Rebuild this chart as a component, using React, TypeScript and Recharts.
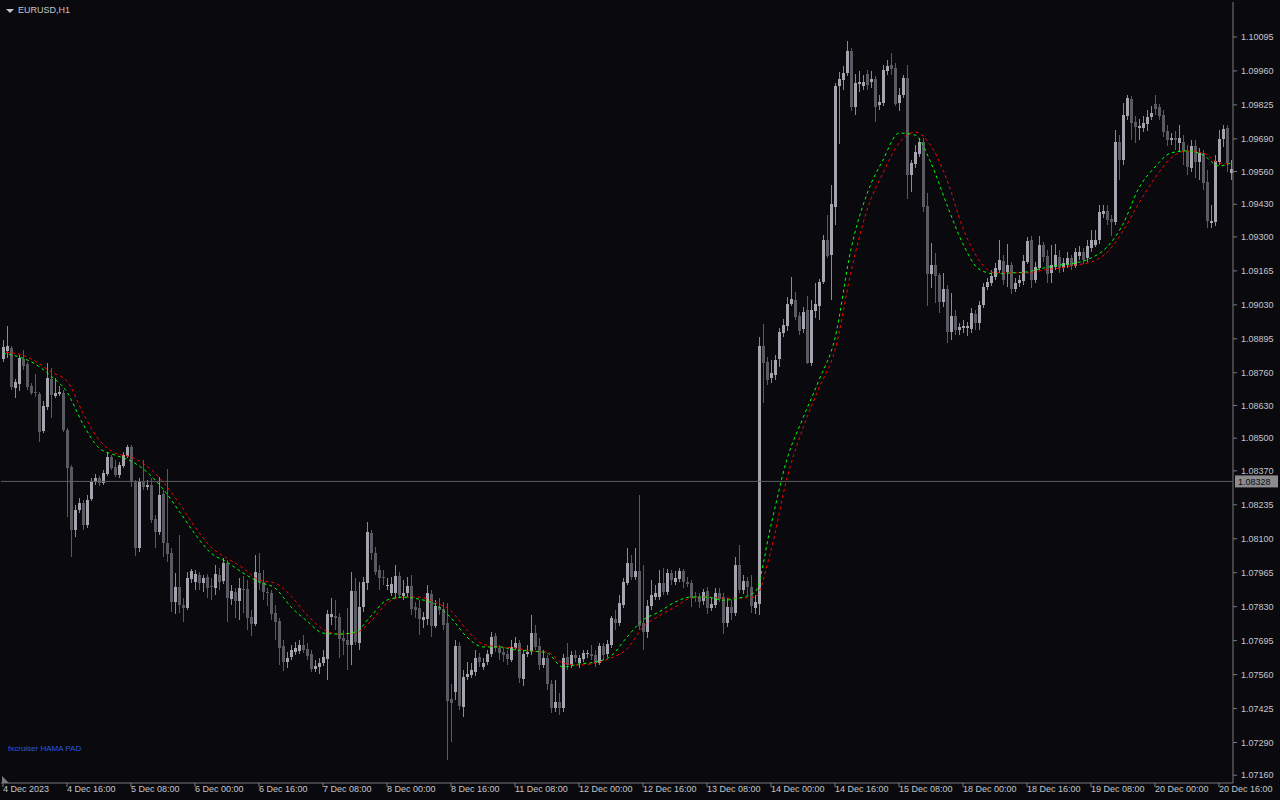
import { ComposedChart, Bar, Line, XAxis, YAxis, ReferenceLine } from "recharts";

// EURUSD H1 candles, one array per trading day: [open, high, low, close] in 1e-5 units
const dec04 = [
  [108815, 108890, 108803, 108862], [108846, 108946, 108819, 108866], [108858, 108866, 108691, 108703], [108699, 108735, 108660, 108723],
  [108715, 108831, 108687, 108819], [108815, 108850, 108771, 108787], [108795, 108803, 108691, 108703], [108707, 108719, 108671, 108679],
  [108683, 108755, 108664, 108679], [108675, 108683, 108485, 108524], [108528, 108648, 108520, 108628], [108624, 108799, 108612, 108739],
  [108735, 108779, 108580, 108671], [108668, 108739, 108660, 108679], [108675, 108707, 108668, 108683], [108679, 108691, 108524, 108532],
  [108532, 108540, 108186, 108381], [108385, 108393, 108027, 108135], [108135, 108234, 108107, 108214], [108214, 108262, 108202, 108242],
  [108242, 108254, 108135, 108155], [108155, 108274, 108143, 108254], [108258, 108341, 108250, 108326], [108326, 108357, 108314, 108341],
];
const dec05 = [
  [108341, 108349, 108310, 108322], [108322, 108373, 108314, 108361], [108357, 108445, 108349, 108425], [108425, 108433, 108373, 108381],
  [108385, 108413, 108345, 108353], [108353, 108405, 108341, 108393], [108389, 108445, 108381, 108433], [108429, 108473, 108421, 108465],
  [108465, 108473, 108306, 108326], [108326, 108334, 108031, 108063], [108063, 108341, 108047, 108326], [108326, 108413, 108294, 108306],
  [108306, 108334, 108294, 108314], [108314, 108341, 108163, 108174], [108178, 108194, 108063, 108127], [108127, 108345, 108115, 108274],
  [108278, 108294, 108027, 108083], [108083, 108377, 108007, 108039], [108043, 108063, 107809, 107848], [107848, 107964, 107801, 107908],
  [107908, 108115, 107805, 107837], [107837, 107864, 107769, 107825], [107825, 107968, 107817, 107944], [107940, 107980, 107924, 107972],
];
const dec06 = [
  [107928, 107976, 107896, 107960], [107956, 107968, 107896, 107924], [107924, 107956, 107888, 107944], [107948, 107960, 107864, 107904],
  [107912, 107944, 107856, 107908], [107904, 107996, 107876, 107960], [107956, 107984, 107896, 107928], [107932, 108023, 107920, 108004],
  [108004, 108016, 107769, 107864], [107860, 107916, 107837, 107892], [107888, 107904, 107785, 107852], [107852, 107944, 107777, 107904],
  [107900, 107952, 107805, 107896], [107900, 107936, 107737, 107785], [107789, 107817, 107713, 107761], [107761, 108035, 107753, 107968],
  [107964, 108043, 107896, 107928], [107928, 107976, 107856, 107888], [107888, 107904, 107833, 107884], [107884, 107896, 107777, 107801],
  [107805, 107837, 107697, 107769], [107773, 107785, 107598, 107666], [107674, 107697, 107574, 107610], [107610, 107650, 107586, 107626],
];
const dec07 = [
  [107630, 107677, 107618, 107658], [107650, 107689, 107638, 107666], [107654, 107697, 107642, 107677], [107677, 107717, 107646, 107658],
  [107662, 107685, 107618, 107634], [107642, 107658, 107570, 107582], [107582, 107618, 107570, 107594], [107590, 107626, 107562, 107606],
  [107606, 107658, 107594, 107630], [107622, 107817, 107538, 107801], [107789, 107864, 107757, 107801], [107793, 107856, 107737, 107785],
  [107789, 107805, 107626, 107701], [107705, 107737, 107638, 107693], [107697, 107825, 107578, 107677], [107677, 107968, 107598, 107892],
  [107892, 107944, 107677, 107689], [107685, 107928, 107658, 107829], [107829, 107948, 107809, 107928], [107924, 108167, 107896, 108127],
  [108123, 108135, 108016, 108043], [108043, 108067, 107956, 107968], [107976, 107996, 107896, 107944], [107948, 107976, 107916, 107944],
];
const dec08 = [
  [107912, 107944, 107896, 107916], [107884, 107948, 107872, 107920], [107884, 107996, 107864, 107952], [107952, 107968, 107864, 107876],
  [107872, 107936, 107856, 107884], [107884, 107948, 107868, 107912], [107912, 107956, 107797, 107821], [107829, 107848, 107785, 107817],
  [107825, 107856, 107717, 107781], [107777, 107809, 107745, 107789], [107781, 107916, 107757, 107884], [107880, 107896, 107709, 107753],
  [107753, 107856, 107745, 107833], [107829, 107864, 107797, 107817], [107821, 107848, 107737, 107757], [107765, 107844, 107220, 107455],
  [107463, 107522, 107292, 107447], [107491, 107697, 107459, 107674], [107674, 107689, 107419, 107435], [107431, 107578, 107391, 107550],
  [107550, 107610, 107538, 107562], [107558, 107606, 107546, 107578], [107570, 107658, 107554, 107626], [107630, 107646, 107590, 107610],
];
const dec11 = [
  [107590, 107626, 107578, 107606], [107610, 107658, 107598, 107642], [107642, 107729, 107630, 107709], [107713, 107725, 107650, 107666],
  [107666, 107677, 107618, 107646], [107650, 107666, 107610, 107638], [107642, 107658, 107598, 107622], [107618, 107697, 107610, 107670],
  [107666, 107709, 107658, 107685], [107685, 107697, 107526, 107546], [107542, 107658, 107514, 107642], [107642, 107677, 107630, 107650],
  [107654, 107797, 107638, 107725], [107725, 107757, 107658, 107670], [107674, 107705, 107578, 107598], [107598, 107658, 107586, 107626],
  [107626, 107638, 107499, 107522], [107522, 107538, 107407, 107427], [107427, 107538, 107411, 107451], [107451, 107487, 107399, 107427],
  [107427, 107642, 107411, 107626], [107630, 107685, 107578, 107598], [107598, 107654, 107586, 107638], [107638, 107658, 107610, 107626],
];
const dec12 = [
  [107606, 107638, 107586, 107626], [107622, 107658, 107610, 107646], [107642, 107658, 107626, 107646], [107642, 107677, 107618, 107634],
  [107638, 107658, 107590, 107606], [107606, 107685, 107598, 107674], [107674, 107685, 107618, 107638], [107642, 107697, 107630, 107681],
  [107677, 107793, 107666, 107785], [107781, 107817, 107737, 107765], [107765, 107876, 107753, 107844], [107837, 107944, 107825, 107928],
  [107924, 108063, 107916, 108004], [108004, 108035, 107936, 107948], [107948, 108063, 107936, 107972], [107972, 108274, 107737, 107753],
  [107765, 107996, 107658, 107729], [107729, 107856, 107705, 107833], [107833, 107936, 107817, 107876], [107868, 107916, 107856, 107884],
  [107868, 107976, 107856, 107924], [107924, 107984, 107876, 107888], [107888, 107980, 107876, 107964], [107964, 107976, 107916, 107936],
];
const dec13 = [
  [107928, 107972, 107916, 107944], [107940, 107984, 107928, 107972], [107972, 107980, 107904, 107928], [107928, 107948, 107908, 107920],
  [107924, 107936, 107829, 107864], [107872, 107888, 107848, 107868], [107864, 107884, 107825, 107848], [107852, 107900, 107837, 107888],
  [107892, 107908, 107801, 107825], [107825, 107864, 107813, 107840], [107837, 107904, 107825, 107884], [107884, 107904, 107848, 107860],
  [107868, 107884, 107721, 107765], [107765, 107864, 107749, 107829], [107829, 107856, 107777, 107805], [107805, 108027, 107793, 107996],
  [107996, 108075, 107884, 107896], [107896, 107956, 107880, 107932], [107932, 107948, 107876, 107908], [107908, 107956, 107805, 107833],
  [107825, 107876, 107801, 107848], [107840, 108902, 107797, 108866], [108866, 108954, 108640, 108799], [108803, 108823, 108711, 108731],
];
const dec14 = [
  [108739, 108811, 108719, 108759], [108751, 108831, 108731, 108811], [108815, 108938, 108783, 108922], [108918, 108974, 108902, 108950],
  [108946, 109061, 108926, 109033], [109033, 109141, 109025, 109053], [109049, 109081, 108970, 108982], [108986, 109001, 108910, 108926],
  [108934, 109021, 108918, 109001], [109009, 109065, 108795, 108799], [108799, 109049, 108787, 109009], [109005, 109117, 108978, 109033],
  [109025, 109133, 108970, 109121], [109121, 109308, 109113, 109288], [109288, 109387, 109216, 109224], [109228, 109506, 109049, 109431],
  [109419, 109912, 109347, 109900], [109900, 109956, 109669, 109928], [109924, 109980, 109884, 109952], [109952, 110079, 109940, 110039],
  [110039, 110051, 109801, 109817], [109817, 109948, 109785, 109912], [109908, 109960, 109876, 109916], [109900, 109944, 109884, 109916],
];
const dec15 = [
  [109948, 109964, 109884, 109904], [109916, 109960, 109892, 109928], [109928, 109940, 109757, 109817], [109825, 109864, 109805, 109836],
  [109832, 109984, 109821, 109964], [109960, 110003, 109944, 109980], [109984, 110031, 109944, 109968], [109972, 109992, 109821, 109828],
  [109832, 109892, 109801, 109864], [109864, 109944, 109852, 109932], [109932, 109984, 109451, 109546], [109546, 109606, 109479, 109594],
  [109590, 109665, 109574, 109638], [109630, 109693, 109618, 109677], [109677, 109693, 109399, 109419], [109423, 109475, 109025, 109153],
  [109153, 109276, 109097, 109188], [109188, 109236, 109037, 109145], [109149, 109157, 108998, 109041], [109041, 109157, 109021, 109093],
  [109093, 109109, 108878, 108922], [108922, 109077, 108890, 108986], [108986, 109009, 108910, 108930], [108930, 108958, 108910, 108942],
];
const dec18 = [
  [108938, 108970, 108918, 108946], [108938, 108962, 108906, 108946], [108934, 109017, 108918, 108998], [108994, 109009, 108930, 108958],
  [108958, 109045, 108930, 109029], [109029, 109117, 109017, 109101], [109101, 109137, 109089, 109121], [109117, 109168, 109105, 109145],
  [109141, 109196, 109129, 109176], [109168, 109288, 109157, 109208], [109204, 109228, 109109, 109129], [109161, 109272, 109101, 109188],
  [109188, 109200, 109073, 109093], [109093, 109137, 109081, 109117], [109117, 109149, 109101, 109129], [109125, 109228, 109109, 109204],
  [109200, 109300, 109192, 109284], [109288, 109304, 109097, 109129], [109129, 109200, 109117, 109180], [109176, 109304, 109168, 109268],
  [109268, 109280, 109200, 109220], [109224, 109248, 109117, 109153], [109157, 109268, 109117, 109188], [109180, 109272, 109168, 109228],
];
const dec19 = [
  [109220, 109248, 109157, 109176], [109176, 109216, 109161, 109196], [109188, 109240, 109176, 109216], [109216, 109228, 109168, 109184],
  [109184, 109256, 109176, 109240], [109224, 109264, 109208, 109240], [109240, 109256, 109192, 109208], [109216, 109288, 109200, 109264],
  [109256, 109328, 109240, 109288], [109268, 109328, 109260, 109288], [109288, 109427, 109272, 109399], [109391, 109427, 109375, 109403],
  [109403, 109427, 109347, 109367], [109371, 109387, 109304, 109359], [109359, 109725, 109347, 109677], [109677, 109705, 109526, 109606],
  [109606, 109832, 109586, 109785], [109781, 109864, 109765, 109852], [109848, 109860, 109685, 109753], [109757, 109781, 109673, 109737],
  [109733, 109769, 109685, 109741], [109733, 109781, 109717, 109753], [109749, 109805, 109721, 109777], [109777, 109821, 109765, 109793],
];
const dec20 = [
  [109828, 109864, 109785, 109809], [109817, 109828, 109765, 109781], [109785, 109805, 109697, 109717], [109721, 109745, 109662, 109685],
  [109685, 109713, 109665, 109693], [109693, 109721, 109646, 109685], [109673, 109745, 109638, 109693], [109677, 109705, 109586, 109642],
  [109642, 109665, 109546, 109578], [109574, 109685, 109558, 109662], [109662, 109685, 109534, 109598], [109598, 109654, 109526, 109634],
  [109634, 109646, 109487, 109514], [109518, 109566, 109335, 109363], [109355, 109427, 109335, 109363], [109359, 109626, 109343, 109602],
  [109598, 109725, 109586, 109689], [109689, 109745, 109658, 109729], [109733, 109745, 109558, 109594], [109554, 109606, 109526, 109570],
];

// HAMA lines, read every 4th bar (plus the last bar)
const hamaFast = [
  108838, 108823, 108795, 108747, 108683, 108556, 108461, 108433, 108409, 108365,
  108298, 108210, 108119, 108043, 108007, 107964, 107928, 107904, 107829, 107773,
  107725, 107721, 107729, 107793, 107856, 107868, 107860, 107840, 107785, 107709,
  107670, 107670, 107658, 107654, 107646, 107590, 107602, 107610, 107634, 107709,
  107777, 107809, 107848, 107868, 107868, 107856, 107864, 107888, 108155, 108417,
  108580, 108731, 108898, 109252, 109471, 109606, 109713, 109705, 109594, 109427,
  109272, 109172, 109153, 109157, 109161, 109176, 109188, 109196, 109216, 109260,
  109351, 109495, 109578, 109634, 109642, 109626, 109582,
];
const hamaSlow = [
  108842, 108834, 108807, 108763, 108727, 108600, 108493, 108441, 108425, 108389,
  108326, 108242, 108147, 108067, 108023, 107984, 107936, 107924, 107872, 107797,
  107741, 107721, 107725, 107773, 107844, 107868, 107868, 107848, 107813, 107737,
  107681, 107670, 107666, 107654, 107650, 107606, 107598, 107606, 107626, 107662,
  107749, 107793, 107829, 107864, 107868, 107864, 107864, 107868, 108055, 108341,
  108540, 108699, 108850, 109161, 109407, 109554, 109673, 109717, 109662, 109526,
  109335, 109208, 109157, 109157, 109157, 109168, 109176, 109188, 109200, 109238,
  109324, 109435, 109534, 109614, 109642, 109634, 109594,
];
const hamaFastLast = 109594;
const hamaSlowLast = 109590;

const timeLabels = [
  "4 Dec 2023", "4 Dec 16:00", "5 Dec 08:00", "6 Dec 00:00", "6 Dec 16:00", "7 Dec 08:00", "8 Dec 00:00",
  "8 Dec 16:00", "11 Dec 08:00", "12 Dec 00:00", "12 Dec 16:00", "13 Dec 08:00", "14 Dec 00:00", "14 Dec 16:00",
  "15 Dec 08:00", "18 Dec 00:00", "18 Dec 16:00", "19 Dec 08:00", "20 Dec 00:00", "20 Dec 16:00",
];
const priceTicks = [
  1.10095, 1.0996, 1.09825, 1.0969, 1.0956, 1.0943, 1.093, 1.09165, 1.0903, 1.08895, 1.0876, 1.0863,
  1.085, 1.0837, 1.08235, 1.081, 1.07965, 1.0783, 1.07695, 1.0756, 1.07425, 1.0729, 1.0716,
];
const priceDomain = [1.07129, 1.10234];
const markerPrice = 1.08328;

const HAMA_STEP = 4;
const LABEL_STEP = 16;
const SCALE = 100000;

const BG = "#0a0a0e";
const FRAME = "#7a7a7e";
const TEXT = "#c4c6cc";
const BULL = "#a4a4ae";
const BULL_WICK = "#8a8a92";
const BEAR = "#5a5a62";
const BEAR_WICK = "#5a5a62";
const FONT = "'Liberation Sans', Arial, sans-serif";

const candles = [dec04, dec05, dec06, dec07, dec08, dec11, dec12, dec13, dec14, dec15, dec18, dec19, dec20].flat();
const last = candles.length - 1;

const data = candles.map(([o, h, l, c], i) => ({
  i,
  o: o / SCALE,
  h: h / SCALE,
  l: l / SCALE,
  c: c / SCALE,
  range: [l / SCALE, h / SCALE],
  fast: i % HAMA_STEP === 0 ? hamaFast[i / HAMA_STEP] / SCALE : i === last ? hamaFastLast / SCALE : null,
  slow: i % HAMA_STEP === 0 ? hamaSlow[i / HAMA_STEP] / SCALE : i === last ? hamaSlowLast / SCALE : null,
}));

const tickIdx = timeLabels.map((_, k) => k * LABEL_STEP);

function Candle(props: any) {
  const { x, y, width, height, payload } = props;
  if (!payload || height == null) return null;
  const { o, h, l, c } = payload;
  const top = Math.min(y, y + height);
  const span = Math.abs(height);
  const k = span / (h - l);
  const cx = Math.floor(x + width / 2);
  const up = c >= o;
  const bodyTop = Math.round(top + (h - Math.max(o, c)) * k);
  const bodyBot = Math.round(top + (h - Math.min(o, c)) * k);
  return (
    <g>
      <line x1={cx + 0.5} x2={cx + 0.5} y1={Math.round(top)} y2={Math.round(top + span)} stroke={up ? BULL_WICK : BEAR_WICK} />
      <rect x={cx - 1} y={bodyTop} width={3} height={Math.max(1, bodyBot - bodyTop)} fill={up ? BULL : BEAR} />
    </g>
  );
}

function TimeTick({ x, y, payload }: any) {
  return (
    <text x={x} y={y + 5} fill={TEXT} fontSize={9} fontFamily={FONT} textAnchor="start">
      {timeLabels[payload.value / LABEL_STEP]}
    </text>
  );
}

function PriceTag({ viewBox }: any) {
  if (!viewBox) return null;
  const lx = viewBox.x + viewBox.width + 2;
  return (
    <g>
      <rect x={lx} y={viewBox.y - 6} width={43} height={12} fill="#8c8c90" />
      <text x={lx + 3} y={viewBox.y + 3.5} fontSize={9} fontFamily={FONT} fill="#0c0c0c">
        {markerPrice.toFixed(5)}
      </text>
    </g>
  );
}

export default function App() {
  return (
    <div style={{ position: "relative", width: 1280, height: 800, background: BG, overflow: "hidden" }}>
      <style>{`body{margin:0;background:${BG}}`}</style>
      <ComposedChart width={1280} height={800} data={data} margin={{ top: 2, right: 0, left: 1, bottom: 0 }}>
        <XAxis xAxisId="top" orientation="top" dataKey="i" height={0} tick={false} tickLine={false} axisLine={{ stroke: FRAME }} />
        <YAxis yAxisId="left" orientation="left" width={0} tick={false} tickLine={false} axisLine={{ stroke: FRAME }} />
        <XAxis
          dataKey="i"
          type="category"
          ticks={tickIdx}
          interval={0}
          height={17}
          tickSize={4}
          tickMargin={0}
          axisLine={{ stroke: FRAME }}
          tickLine={{ stroke: FRAME }}
          tick={<TimeTick />}
        />
        <YAxis
          orientation="right"
          type="number"
          domain={priceDomain}
          allowDataOverflow
          ticks={priceTicks}
          interval={0}
          width={47}
          tickSize={4}
          tickMargin={4}
          axisLine={{ stroke: FRAME }}
          tickLine={{ stroke: FRAME }}
          tick={{ fill: TEXT, fontSize: 9, fontFamily: FONT }}
          tickFormatter={(v: number) => v.toFixed(5)}
        />
        <ReferenceLine y={markerPrice} stroke="#5e5e64" strokeWidth={1} label={<PriceTag />} />
        <Bar dataKey="range" barSize={3} shape={(p: any) => <Candle {...p} />} isAnimationActive={false} />
        <Line type="monotone" dataKey="slow" stroke="#ff0000" strokeWidth={1} strokeDasharray="3 3" strokeDashoffset={3} dot={false} activeDot={false} connectNulls isAnimationActive={false} />
        <Line type="monotone" dataKey="fast" stroke="#00ff00" strokeWidth={1} strokeDasharray="3 3" dot={false} activeDot={false} connectNulls isAnimationActive={false} />
      </ComposedChart>
      <div style={{ position: "absolute", left: 6, top: 9, width: 0, height: 0, borderLeft: "4px solid transparent", borderRight: "4px solid transparent", borderTop: `4px solid ${TEXT}` }} />
      <div style={{ position: "absolute", left: 18, top: 5, fontFamily: FONT, fontSize: 9, lineHeight: "10px", color: TEXT }}>EURUSD,H1</div>
      <div style={{ position: "absolute", left: 8, top: 744, fontFamily: FONT, fontSize: 8, lineHeight: "10px", color: "#2d55e0" }}>fxcruiser HAMA PAD</div>
      <div style={{ position: "absolute", left: 2, top: 776, width: 0, height: 0, borderBottom: `7px solid ${FRAME}`, borderRight: "7px solid transparent" }} />
    </div>
  );
}
